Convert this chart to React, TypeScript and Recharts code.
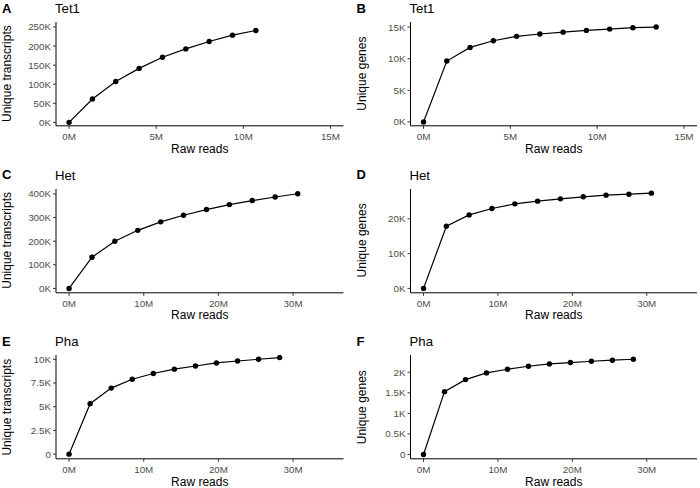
import React from 'react';
import { LineChart, Line, XAxis, YAxis } from 'recharts';

// reads in millions, counts in thousands
const tet1TxReads = [0, 1.34, 2.68, 4.02, 5.36, 6.7, 8.04, 9.38, 10.72];
const tet1Transcripts = [0, 61.3, 107.1, 141.4, 170.5, 192.5, 211.8, 228.5, 240.8];

const tet1GeneReads = [0, 1.34, 2.68, 4.02, 5.36, 6.7, 8.04, 9.38, 10.72, 12.06, 13.4];
const tet1Genes = [0, 9.63, 11.79, 12.84, 13.53, 13.9, 14.2, 14.47, 14.68, 14.9, 15.0];

const hetReads = [0, 3.07, 6.13, 9.2, 12.27, 15.33, 18.4, 21.47, 24.53, 27.6, 30.62];
const hetTranscripts = [0, 132, 200, 246, 282, 310, 334, 355, 372, 387, 401];
const hetGenes = [0, 17.9, 21.15, 22.98, 24.33, 25.1, 25.77, 26.35, 26.83, 27.1, 27.4];

const phaReads = [0, 2.82, 5.64, 8.46, 11.28, 14.1, 16.92, 19.74, 22.56, 25.38, 28.2];
const phaTranscripts = [0, 5.32, 6.96, 7.89, 8.5, 8.96, 9.29, 9.61, 9.82, 10.0, 10.18];
const phaGenes = [0, 1.528, 1.821, 1.984, 2.073, 2.146, 2.203, 2.236, 2.268, 2.293, 2.317];

const xTicksShort = [0, 5, 10, 15];
const xTicksLong = [0, 10, 20, 30];

const FONT = '"Liberation Sans", Arial, Helvetica, sans-serif';

const fmtM = (v: number) => `${v}M`;
const fmtK = (v: number) => (v === 0 ? '0' : `${v}K`);
const fmtK0 = (v: number) => `${v}K`;

const colLeft = [56, 410.5];
const colRight = [343.5, 697];
const rowTop = [21.7, 188.5, 355.3];
const plotH = 103.8;

type PanelProps = {
  col: number;
  row: number;
  xs: number[];
  ys: number[];
  xDomain: [number, number];
  xTicks: number[];
  yDomain: [number, number];
  yTicks: number[];
  yFmt: (v: number) => string;
};

function Panel({ col, row, xs, ys, xDomain, xTicks, yDomain, yTicks, yFmt }: PanelProps) {
  const data = xs.map((x, i) => ({ x, y: ys[i] }));
  const colX = col * 350;
  const top = 10;
  const xAxisH = 30;
  const tick = { fill: '#4d4d4d', fontSize: 9.8, fontFamily: FONT };
  return (
    <div style={{ position: 'absolute', left: colX, top: rowTop[row] - top }}>
      <LineChart
        width={350}
        height={top + plotH + xAxisH}
        data={data}
        margin={{ top, right: 350 - (colRight[col] - colX), bottom: 0, left: 0 }}
      >
        <XAxis
          type="number"
          dataKey="x"
          domain={xDomain}
          ticks={xTicks}
          allowDataOverflow
          tickFormatter={fmtM}
          tick={tick}
          tickSize={3}
          tickMargin={4}
          height={xAxisH}
          axisLine={{ stroke: '#000', strokeWidth: 1 }}
          tickLine={{ stroke: '#333', strokeWidth: 1 }}
        />
        <YAxis
          type="number"
          dataKey="y"
          domain={yDomain}
          ticks={yTicks}
          allowDataOverflow
          tickFormatter={yFmt}
          tick={tick}
          tickSize={3}
          tickMargin={2}
          width={colLeft[col] - colX}
          axisLine={{ stroke: '#000', strokeWidth: 1 }}
          tickLine={{ stroke: '#333', strokeWidth: 1 }}
        />
        <Line
          type="linear"
          dataKey="y"
          stroke="#000"
          strokeWidth={1.2}
          dot={{ r: 2.7, fill: '#000', stroke: 'none' }}
          activeDot={false}
          isAnimationActive={false}
        />
      </LineChart>
    </div>
  );
}

const letters = ['A', 'B', 'C', 'D', 'E', 'F'];
const titles = ['Tet1', 'Tet1', 'Het', 'Het', 'Pha', 'Pha'];
const yTitles = ['Unique transcripts', 'Unique genes'];

export default function App() {
  return (
    <div style={{ position: 'absolute', left: 0, top: 0, width: 700, height: 488, background: '#fff', fontFamily: FONT }}>
      <Panel col={0} row={0} xs={tet1TxReads} ys={tet1Transcripts} xDomain={[-0.75, 15.75]} xTicks={xTicksShort}
        yDomain={[-9, 263]} yTicks={[0, 50, 100, 150, 200, 250]} yFmt={fmtK0} />
      <Panel col={1} row={0} xs={tet1GeneReads} ys={tet1Genes} xDomain={[-0.75, 15.75]} xTicks={xTicksShort}
        yDomain={[-0.6, 15.8]} yTicks={[0, 5, 10, 15]} yFmt={fmtK0} />
      <Panel col={0} row={1} xs={hetReads} ys={hetTranscripts} xDomain={[-1.75, 36.75]} xTicks={xTicksLong}
        yDomain={[-18.5, 421]} yTicks={[0, 100, 200, 300, 400]} yFmt={fmtK0} />
      <Panel col={1} row={1} xs={hetReads} ys={hetGenes} xDomain={[-1.75, 36.75]} xTicks={xTicksLong}
        yDomain={[-1.27, 28.6]} yTicks={[0, 10, 20]} yFmt={fmtK0} />
      <Panel col={0} row={2} xs={phaReads} ys={phaTranscripts} xDomain={[-1.75, 36.75]} xTicks={xTicksLong}
        yDomain={[-0.49, 10.45]} yTicks={[0, 2.5, 5, 7.5, 10]} yFmt={fmtK} />
      <Panel col={1} row={2} xs={phaReads} ys={phaGenes} xDomain={[-1.75, 36.75]} xTicks={xTicksLong}
        yDomain={[-0.105, 2.42]} yTicks={[0, 0.5, 1, 1.5, 2]} yFmt={fmtK} />

      <svg width={700} height={488} style={{ position: 'absolute', left: 0, top: 0, pointerEvents: 'none' }}>
        {letters.map((l, i) => {
          const col = i % 2;
          const row = Math.floor(i / 2);
          const base = 12.6 + row * 166.7;
          const cx = (colLeft[col] + colRight[col]) / 2;
          const cy = rowTop[row] + plotH / 2;
          const yx = col === 0 ? 11.3 : 366;
          return (
            <g key={l} fontFamily={FONT}>
              <text x={col === 0 ? 2 : 356.5} y={base} fontSize={13} fontWeight="bold" fill="#000">{l}</text>
              <text x={colLeft[col] - 1} y={base + 0.4} fontSize={13.2} fill="#000">{titles[i]}</text>
              <text x={cx} y={rowTop[row] + plotH + 27} fontSize={12} textAnchor="middle" fill="#000">Raw reads</text>
              <text x={yx} y={cy} fontSize={12} textAnchor="middle" fill="#000" transform={`rotate(-90 ${yx} ${cy})`}>
                {yTitles[col]}
              </text>
            </g>
          );
        })}
      </svg>
    </div>
  );
}
